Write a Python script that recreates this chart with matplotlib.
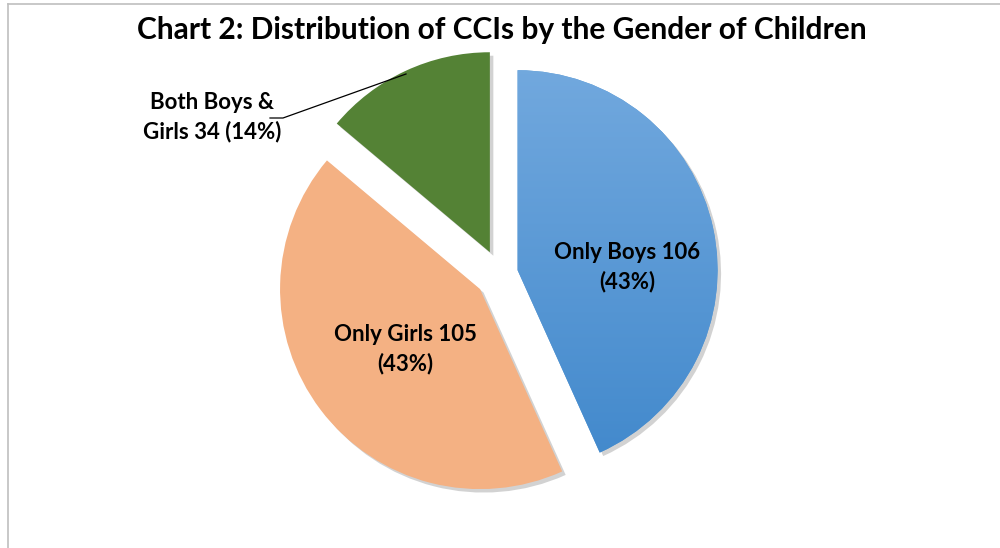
import matplotlib
matplotlib.use("Agg")
import matplotlib.pyplot as plt
import matplotlib.patheffects as pe
from matplotlib.lines import Line2D
from matplotlib.colors import LinearSegmentedColormap
import numpy as np

title = "Chart 2: Distribution of CCIs by the Gender of Children"
categories = ["Only Boys", "Only Girls", "Both Boys &\nGirls"]
values = [106, 105, 34]
colors = ["#5b9bd5", "#f4b183", "#548235"]

plt.rcParams['font.family'] = ['Lato', 'DejaVu Sans']

fig = plt.figure(figsize=(10, 5.48), dpi=100)
ax = fig.add_axes([0, 0, 1, 1])
ax.axis('off')

R = 200
total = sum(values)
wedges, _ = ax.pie(values, colors=colors, startangle=90, counterclock=False,
                   explode=[18, 25, 24], radius=R, center=(500, 274),
                   wedgeprops=dict(linewidth=0))
ax.set_xlim(0, 1000)
ax.set_ylim(0, 548)
ax.set_aspect('equal')

for w in wedges:
    w.set_path_effects([pe.SimplePatchShadow(offset=(2.5, -2.5), shadow_rgbFace='#7f7f7f', alpha=0.35),
                        pe.Normal()])

# gradient on blue wedge
grad = np.linspace(0, 1, 256).reshape(-1, 1)
cmap = LinearSegmentedColormap.from_list('b', ['#3f87cb', '#74aadf'])
im = ax.imshow(grad, cmap=cmap, extent=(480, 760, 60, 500), origin='lower', aspect='auto', zorder=2)
im.set_clip_path(wedges[0])
ax.set_xlim(0, 1000)
ax.set_ylim(0, 548)

def pct(v):
    return f"{round(100 * v / total)}%"

lbl_font = dict(fontsize=16, fontweight='bold', color='black', ha='center', va='center',
                linespacing=1.45, zorder=5)
ax.text(627, 548 - 267, f"{categories[0]} {values[0]}\n({pct(values[0])})", **lbl_font)
ax.text(405, 548 - 349, f"{categories[1]} {values[1]}\n({pct(values[1])})", **lbl_font)
ax.text(212, 548 - 117, f"{categories[2]} {values[2]} ({pct(values[2])})", **lbl_font)
ax.plot([270, 283, 406], [548 - 118, 548 - 118, 548 - 74], color='black', lw=0.9, zorder=5)

fig.text(0.502, 1 - 30 / 548, title, fontsize=21.5, fontweight='bold', ha='center', va='center')

fig.add_artist(Line2D([7.5 / 1000, 7.5 / 1000], [0, 1 - 3.5 / 548], transform=fig.transFigure,
                      color='#bfbfbf', lw=1.2))
fig.add_artist(Line2D([7.5 / 1000, 1], [1 - 3.5 / 548, 1 - 3.5 / 548], transform=fig.transFigure,
                      color='#bfbfbf', lw=1.2))

fig.savefig("out.png", dpi=100, facecolor='white')
